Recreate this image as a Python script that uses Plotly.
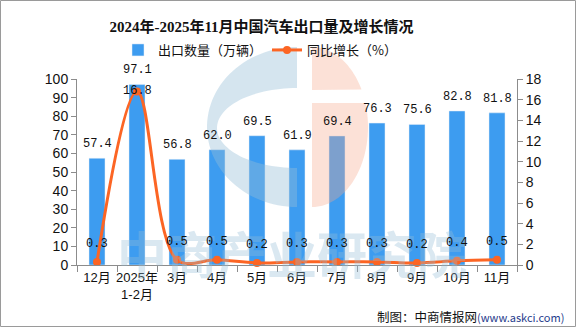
import numpy as np
import plotly.graph_objects as go

categories = ["12月", "2025年<br>1-2月", "3月", "4月", "5月", "6月", "7月", "8月", "9月", "10月", "11月"]
export_volume = [57.4, 97.1, 56.8, 62.0, 69.5, 61.9, 69.4, 76.3, 75.6, 82.8, 81.8]
yoy_growth = [0.3, 16.8, 0.5, 0.5, 0.2, 0.3, 0.3, 0.3, 0.2, 0.4, 0.5]

W, H = 576, 327
ML, MR, MT, MB = 77, 59, 79, 62
PW, PH = W - ML - MR, H - MT - MB

def px(x):
    return (x - ML) / PW

def py(y):
    return (H - MB - y) / PH

BAR = "#3d9cf0"
LINE = "#fc6524"
AX = "#8c8c8c"
NUMFONT = "Liberation Mono"
SANS = "Liberation Sans, Noto Sans CJK SC"

fig = go.Figure()
fig.add_trace(go.Bar(x=categories, y=export_volume, name="出口数量（万辆）",
                     marker_color=BAR, width=0.4, yaxis="y"))
fig.add_trace(go.Scatter(x=categories, y=yoy_growth, name="同比增长（%）", yaxis="y2",
                         mode="lines+markers", line=dict(color=LINE, width=3, shape="spline", smoothing=1.0),
                         marker=dict(color=LINE, size=8), cliponaxis=False))

annotations = []
# watermark text (drawn first so labels sit on top)
annotations.append(dict(x=px(292), y=py(252), xref="paper", yref="paper", text="<b>中商产业研究院</b>",
                        showarrow=False, font=dict(family="Noto Sans CJK SC", size=50, color="rgba(150,190,215,0.35)"),
                        xanchor="center", yanchor="middle"))
for c, v in zip(categories, export_volume):
    annotations.append(dict(x=c, y=v, xref="x", yref="y", text=f"{v:.1f}", showarrow=False,
                            yanchor="middle", yshift=14, font=dict(family=NUMFONT, size=12, color="#111")))
gmax = max(yoy_growth)
for c, v in zip(categories, yoy_growth):
    annotations.append(dict(x=c, y=v, xref="x", yref="y2", text=f"{v:.1f}", showarrow=False,
                            yanchor="middle", yshift=0 if v == gmax else 18,
                            font=dict(family=NUMFONT, size=12, color="#111")))

# footer
annotations.append(dict(x=px(566), y=py(316), xref="paper", yref="paper",
                        text="制图：中商情报网<span style='font-size:11px;color:#1f3c8c'>(www.askci.com)</span>",
                        showarrow=False, xanchor="right", yanchor="middle",
                        font=dict(family="Noto Sans CJK SC", size=12.5, color="#111")))

shapes = []
# logo watermark: blue C
t1 = np.linspace(np.pi / 2, 3 * np.pi / 2, 60)
cx, cy = 297, 127
outer = [(cx + 90 * np.cos(t), cy - 80 * np.sin(t)) for t in t1]
inner = [(cx + 80 * np.cos(t), cy + 1 - 40 * np.sin(t)) for t in t1[::-1]]
pts = outer + [(cx, 167)] + inner
path = "M " + " L ".join(f"{px(a):.4f},{py(b):.4f}" for a, b in pts) + " Z"
shapes.append(dict(type="path", path=path, xref="paper", yref="paper", fillcolor="rgba(150,190,215,0.4)",
                   line=dict(width=0), layer="above"))
# orange half disc with slot
ox, oy = 312, 127
t2 = np.linspace(-np.pi / 2, np.pi / 2, 120)
half = [(ox + 56 * np.cos(t), oy - 80 * np.sin(t)) for t in t2]
top = [(a, b) for a, b in half if b <= 90]
bot = [(a, b) for a, b in half if b >= 103]
for seg, edge in ((top, 90), (bot, 103)):
    seg = sorted(seg, key=lambda p: p[1])
    if edge == 90:
        pts2 = [(ox, 47)] + seg + [(ox, 90)]
    else:
        pts2 = [(ox, 103)] + seg + [(ox, 207)]
    path2 = "M " + " L ".join(f"{px(a):.4f},{py(b):.4f}" for a, b in pts2) + " Z"
    shapes.append(dict(type="path", path=path2, xref="paper", yref="paper", fillcolor="rgba(245,170,140,0.35)",
                       line=dict(width=0), layer="above"))
# outer border
shapes.append(dict(type="rect", xref="paper", yref="paper", x0=px(0.5), x1=px(575.5), y0=py(326.5), y1=py(0.5),
                   line=dict(color="#9a9a9a", width=1), layer="above"))

fig.update_layout(
    width=W, height=H, margin=dict(l=ML, r=MR, t=MT, b=MB, autoexpand=False),
    paper_bgcolor="white", plot_bgcolor="white",
    title=dict(text="<b>2024年-2025年11月中国汽车出口量及增长情况</b>", x=261.5 / W, xanchor="center",
               y=1 - 27 / H, yanchor="middle", xref="container", yref="container",
               font=dict(family="Liberation Serif, Noto Sans CJK SC", size=15, color="#111")),
    legend=dict(orientation="h", x=px(260), xanchor="center", y=py(50), yanchor="middle",
                font=dict(family="Noto Sans CJK SC", size=13, color="#111"), itemwidth=30,
                bgcolor="rgba(0,0,0,0)"),
    showlegend=True,
    xaxis=dict(type="category", showline=True, linecolor=AX, linewidth=1, ticks="outside", tickson="boundaries",
               ticklen=6, tickcolor=AX, showgrid=False, tickangle=0, automargin=False,
               tickfont=dict(family=SANS, size=13, color="#111"), range=[-0.5, 10.5]),
    yaxis=dict(range=[0, 100], dtick=10, showline=True, linecolor=AX, ticks="outside", ticklen=5, tickcolor=AX,
               showgrid=False, zeroline=False, automargin=False, tickfont=dict(family=SANS, size=14, color="#111")),
    yaxis2=dict(range=[0, 18], dtick=2, overlaying="y", side="right", showline=True, linecolor=AX, ticks="outside",
                ticklen=5, tickcolor=AX, showgrid=False, zeroline=False, automargin=False,
                tickfont=dict(family=SANS, size=14, color="#111")),
    annotations=annotations, shapes=shapes,
)

fig.write_html("out.html")
